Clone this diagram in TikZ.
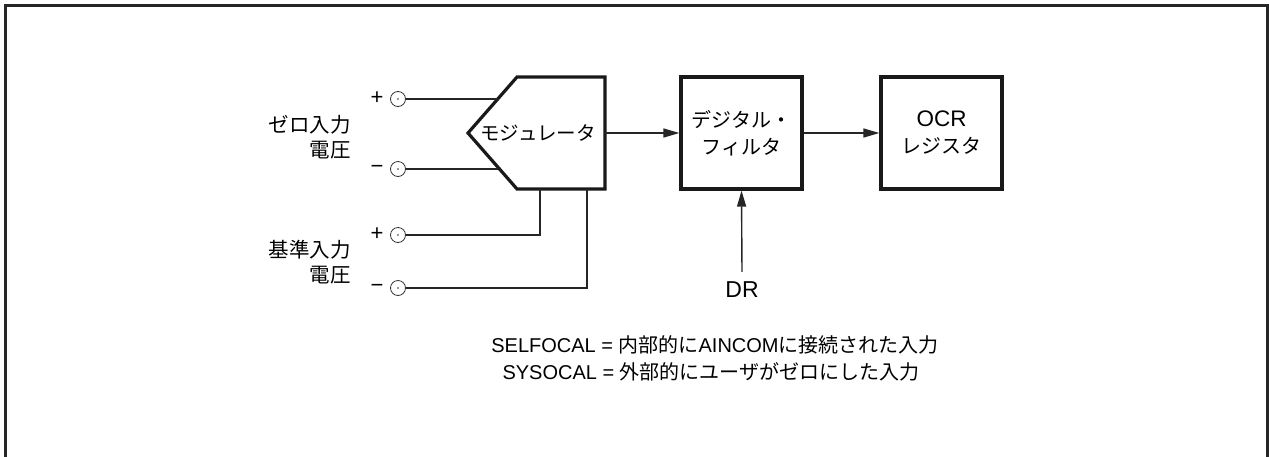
\documentclass[tikz,border=0pt]{standalone}
\usepackage{fontspec}
\setmainfont{Liberation Sans}
\newfontfamily\cjk{Noto Sans CJK JP}
\usetikzlibrary{arrows.meta,calc}
\begin{document}
\begin{tikzpicture}[x=1pt,y=-1pt,
  blk/.style={draw=black!90,line width=3.2pt,minimum width=121pt,minimum height=112pt,inner sep=0pt,align=center,font=\fontsize{20}{27}\selectfont},
  wire/.style={draw=black!85,line width=1.4pt},
  arr/.style={wire,-{Triangle[length=16pt,width=9pt]}},
  term/.style={circle,draw=black!80,line width=0.8pt,minimum size=15pt,inner sep=0pt},
  lbl/.style={font=\fontsize{20.5}{25}\selectfont\cjk,align=right,inner sep=0pt},
  sgn/.style={font=\fontsize{22}{24}\selectfont,inner sep=0pt},
  txt/.style={font=\fontsize{20}{27}\selectfont,inner sep=0pt}]
\useasboundingbox (0,0) rectangle (1269,456);
\draw[line width=3pt,black!85] (5,458) -- (5,5) -- (1267,5) -- (1267,458);
% modulator
\coordinate (mTL) at (517,77);
\coordinate (mTR) at (605,77);
\coordinate (mBR) at (605,189);
\coordinate (mBL) at (517,189);
\coordinate (mL) at (468,133);
\draw[line width=3.2pt,black!90,line join=miter] (mTL) -- (mTR) -- (mBR) -- (mBL) -- (mL) -- cycle;
\node[txt,font=\fontsize{19.5}{27}\selectfont\cjk] (mod) at (538,133) {モジュレータ};
\coordinate (mout) at (605,133);
% blocks
\node[blk] (df) at (741.5,133) {{\cjk デジタル・}\\{\cjk フィルタ}};
\node[blk] (ocr) at (941.5,133) {{\fontsize{22.5}{27}\selectfont OCR}\\{\cjk レジスタ}};
\draw[arr] (mout) -- (df.west);
\draw[arr] (df.east) -- (ocr.west);
\node[txt,font=\fontsize{23}{25}\selectfont] (dr) at (742,290) {DR};
\draw[arr] ($(dr.north)+(0,-10)$) -- (df.south);
% terminals
\node[term] (t1) at (398,99) {};
\node[term] (t2) at (398,169) {};
\node[term] (t3) at (398,235) {};
\node[term] (t4) at (398,288) {};
\foreach \t in {t1,t2,t3,t4} \fill[black!80] (\t) circle (0.8pt);
\node[sgn] (p1) at (377,98) {+};
\node[sgn] (m1) at (377,169) {−};
\node[sgn] (p2) at (377,234) {+};
\node[sgn] (m2) at (377,288) {−};
\coordinate (e1) at (497.7,99);
\coordinate (e2) at (497.7,169);
\draw[wire] (t1) -- (e1);
\draw[wire] (t2) -- (e2);
\coordinate (b1) at (540,189);
\coordinate (b2) at (587,189);
\draw[wire] (t3) -- (t3 -| b1) -- (b1);
\draw[wire] (t4) -- (t4 -| b2) -- (b2);
% labels
\node[lbl,anchor=east] (zl) at (351,137) {ゼロ入力\\電圧};
\node[lbl,anchor=east] (rl) at (351,262) {基準入力\\電圧};
% bottom text
\node[txt] (n1) at (715,345) {SELFOCAL = {\cjk 内部的に}AINCOM{\cjk に接続された入力}};
\node[txt] (n2) at (711,372) {SYSOCAL = {\cjk 外部的にユーザがゼロにした入力}};
\end{tikzpicture}
\end{document}
